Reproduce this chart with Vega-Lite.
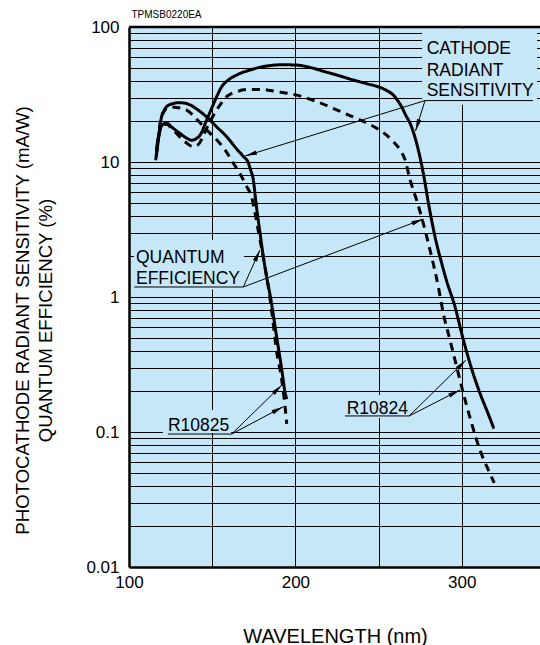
{
  "$schema": "https://vega.github.io/schema/vega-lite/v6.json",
  "width": 411,
  "height": 540,
  "autosize": {"type": "none"},
  "padding": {"left": 129, "top": 27, "right": 0, "bottom": 78},
  "background": "white",
  "view": {"fill": "#C6E7F8", "stroke": null},
  "config": {"font": "Liberation Sans", "text": {"font": "Liberation Sans", "color": "#000"}},
  "datasets": {
    "curves": [
      {"series": "R10825 sensitivity", "kind": "sensitivity", "wavelength": 116, "value": 10.3},
      {"series": "R10825 sensitivity", "kind": "sensitivity", "wavelength": 117, "value": 12.5},
      {"series": "R10825 sensitivity", "kind": "sensitivity", "wavelength": 117.6, "value": 14.5},
      {"series": "R10825 sensitivity", "kind": "sensitivity", "wavelength": 118.5, "value": 18},
      {"series": "R10825 sensitivity", "kind": "sensitivity", "wavelength": 119.6, "value": 21.7},
      {"series": "R10825 sensitivity", "kind": "sensitivity", "wavelength": 121, "value": 24},
      {"series": "R10825 sensitivity", "kind": "sensitivity", "wavelength": 122.6, "value": 25.7},
      {"series": "R10825 sensitivity", "kind": "sensitivity", "wavelength": 126, "value": 27},
      {"series": "R10825 sensitivity", "kind": "sensitivity", "wavelength": 130, "value": 27.5},
      {"series": "R10825 sensitivity", "kind": "sensitivity", "wavelength": 134, "value": 27.2},
      {"series": "R10825 sensitivity", "kind": "sensitivity", "wavelength": 138.6, "value": 25.7},
      {"series": "R10825 sensitivity", "kind": "sensitivity", "wavelength": 143, "value": 23.5},
      {"series": "R10825 sensitivity", "kind": "sensitivity", "wavelength": 147.7, "value": 21},
      {"series": "R10825 sensitivity", "kind": "sensitivity", "wavelength": 152.7, "value": 18.2},
      {"series": "R10825 sensitivity", "kind": "sensitivity", "wavelength": 158.7, "value": 15.4},
      {"series": "R10825 sensitivity", "kind": "sensitivity", "wavelength": 164, "value": 12.8},
      {"series": "R10825 sensitivity", "kind": "sensitivity", "wavelength": 168.7, "value": 11.0},
      {"series": "R10825 sensitivity", "kind": "sensitivity", "wavelength": 171.5, "value": 10.0},
      {"series": "R10825 sensitivity", "kind": "sensitivity", "wavelength": 173, "value": 8.8},
      {"series": "R10825 sensitivity", "kind": "sensitivity", "wavelength": 174.7, "value": 7.4},
      {"series": "R10825 sensitivity", "kind": "sensitivity", "wavelength": 176.3, "value": 5.0},
      {"series": "R10825 sensitivity", "kind": "sensitivity", "wavelength": 178.7, "value": 3.0},
      {"series": "R10825 sensitivity", "kind": "sensitivity", "wavelength": 180.7, "value": 2.0},
      {"series": "R10825 sensitivity", "kind": "sensitivity", "wavelength": 183, "value": 1.35},
      {"series": "R10825 sensitivity", "kind": "sensitivity", "wavelength": 185, "value": 1.0},
      {"series": "R10825 sensitivity", "kind": "sensitivity", "wavelength": 188.8, "value": 0.5},
      {"series": "R10825 sensitivity", "kind": "sensitivity", "wavelength": 191.8, "value": 0.29},
      {"series": "R10825 sensitivity", "kind": "sensitivity", "wavelength": 193.7, "value": 0.2},
      {"series": "R10825 sensitivity", "kind": "sensitivity", "wavelength": 194.8, "value": 0.175},

      {"series": "R10825 QE", "kind": "QE", "wavelength": 116.3, "value": 11},
      {"series": "R10825 QE", "kind": "QE", "wavelength": 117.5, "value": 14.5},
      {"series": "R10825 QE", "kind": "QE", "wavelength": 118.6, "value": 19},
      {"series": "R10825 QE", "kind": "QE", "wavelength": 120.5, "value": 23},
      {"series": "R10825 QE", "kind": "QE", "wavelength": 122.6, "value": 25},
      {"series": "R10825 QE", "kind": "QE", "wavelength": 126, "value": 25.6},
      {"series": "R10825 QE", "kind": "QE", "wavelength": 130, "value": 25.2},
      {"series": "R10825 QE", "kind": "QE", "wavelength": 134, "value": 24.5},
      {"series": "R10825 QE", "kind": "QE", "wavelength": 138, "value": 22.5},
      {"series": "R10825 QE", "kind": "QE", "wavelength": 142.7, "value": 19.5},
      {"series": "R10825 QE", "kind": "QE", "wavelength": 147.7, "value": 16.8},
      {"series": "R10825 QE", "kind": "QE", "wavelength": 152.7, "value": 14.6},
      {"series": "R10825 QE", "kind": "QE", "wavelength": 157.7, "value": 12.3},
      {"series": "R10825 QE", "kind": "QE", "wavelength": 162.7, "value": 9.8},
      {"series": "R10825 QE", "kind": "QE", "wavelength": 166.7, "value": 8.2},
      {"series": "R10825 QE", "kind": "QE", "wavelength": 170.7, "value": 6.6},
      {"series": "R10825 QE", "kind": "QE", "wavelength": 173.7, "value": 5.5},
      {"series": "R10825 QE", "kind": "QE", "wavelength": 175.7, "value": 4.2},
      {"series": "R10825 QE", "kind": "QE", "wavelength": 177.7, "value": 3.1},
      {"series": "R10825 QE", "kind": "QE", "wavelength": 179.7, "value": 2.3},
      {"series": "R10825 QE", "kind": "QE", "wavelength": 181.7, "value": 1.67},
      {"series": "R10825 QE", "kind": "QE", "wavelength": 183.7, "value": 1.19},
      {"series": "R10825 QE", "kind": "QE", "wavelength": 185.7, "value": 0.8},
      {"series": "R10825 QE", "kind": "QE", "wavelength": 188.8, "value": 0.39},
      {"series": "R10825 QE", "kind": "QE", "wavelength": 191.8, "value": 0.243},
      {"series": "R10825 QE", "kind": "QE", "wavelength": 193.8, "value": 0.154},
      {"series": "R10825 QE", "kind": "QE", "wavelength": 194.8, "value": 0.115},

      {"series": "R10824 sensitivity", "kind": "sensitivity", "wavelength": 116.6, "value": 12.6},
      {"series": "R10824 sensitivity", "kind": "sensitivity", "wavelength": 117.5, "value": 15},
      {"series": "R10824 sensitivity", "kind": "sensitivity", "wavelength": 118.6, "value": 17.3},
      {"series": "R10824 sensitivity", "kind": "sensitivity", "wavelength": 120.5, "value": 19.0},
      {"series": "R10824 sensitivity", "kind": "sensitivity", "wavelength": 122.6, "value": 19.4},
      {"series": "R10824 sensitivity", "kind": "sensitivity", "wavelength": 126, "value": 18},
      {"series": "R10824 sensitivity", "kind": "sensitivity", "wavelength": 130.6, "value": 16.3},
      {"series": "R10824 sensitivity", "kind": "sensitivity", "wavelength": 134, "value": 15.2},
      {"series": "R10824 sensitivity", "kind": "sensitivity", "wavelength": 137.7, "value": 14.5},
      {"series": "R10824 sensitivity", "kind": "sensitivity", "wavelength": 140, "value": 14.8},
      {"series": "R10824 sensitivity", "kind": "sensitivity", "wavelength": 142.7, "value": 15.8},
      {"series": "R10824 sensitivity", "kind": "sensitivity", "wavelength": 146.7, "value": 20.5},
      {"series": "R10824 sensitivity", "kind": "sensitivity", "wavelength": 149.7, "value": 25},
      {"series": "R10824 sensitivity", "kind": "sensitivity", "wavelength": 152.7, "value": 30.5},
      {"series": "R10824 sensitivity", "kind": "sensitivity", "wavelength": 155.7, "value": 36.1},
      {"series": "R10824 sensitivity", "kind": "sensitivity", "wavelength": 159.7, "value": 40.5},
      {"series": "R10824 sensitivity", "kind": "sensitivity", "wavelength": 164.7, "value": 44.1},
      {"series": "R10824 sensitivity", "kind": "sensitivity", "wavelength": 172.7, "value": 48},
      {"series": "R10824 sensitivity", "kind": "sensitivity", "wavelength": 182.7, "value": 51.4},
      {"series": "R10824 sensitivity", "kind": "sensitivity", "wavelength": 192, "value": 52.5},
      {"series": "R10824 sensitivity", "kind": "sensitivity", "wavelength": 200, "value": 52.3},
      {"series": "R10824 sensitivity", "kind": "sensitivity", "wavelength": 208, "value": 50.5},
      {"series": "R10824 sensitivity", "kind": "sensitivity", "wavelength": 216.8, "value": 47},
      {"series": "R10824 sensitivity", "kind": "sensitivity", "wavelength": 224.8, "value": 44.1},
      {"series": "R10824 sensitivity", "kind": "sensitivity", "wavelength": 234.8, "value": 40.5},
      {"series": "R10824 sensitivity", "kind": "sensitivity", "wavelength": 243, "value": 38},
      {"series": "R10824 sensitivity", "kind": "sensitivity", "wavelength": 250.8, "value": 35.7},
      {"series": "R10824 sensitivity", "kind": "sensitivity", "wavelength": 255, "value": 33.8},
      {"series": "R10824 sensitivity", "kind": "sensitivity", "wavelength": 258.9, "value": 31.3},
      {"series": "R10824 sensitivity", "kind": "sensitivity", "wavelength": 261.5, "value": 28.5},
      {"series": "R10824 sensitivity", "kind": "sensitivity", "wavelength": 263.8, "value": 25.7},
      {"series": "R10824 sensitivity", "kind": "sensitivity", "wavelength": 266.5, "value": 22},
      {"series": "R10824 sensitivity", "kind": "sensitivity", "wavelength": 268.9, "value": 19.4},
      {"series": "R10824 sensitivity", "kind": "sensitivity", "wavelength": 272.9, "value": 13.7},
      {"series": "R10824 sensitivity", "kind": "sensitivity", "wavelength": 276.9, "value": 8.2},
      {"series": "R10824 sensitivity", "kind": "sensitivity", "wavelength": 279.9, "value": 5.0},
      {"series": "R10824 sensitivity", "kind": "sensitivity", "wavelength": 283.9, "value": 2.8},
      {"series": "R10824 sensitivity", "kind": "sensitivity", "wavelength": 287.9, "value": 1.78},
      {"series": "R10824 sensitivity", "kind": "sensitivity", "wavelength": 291, "value": 1.3},
      {"series": "R10824 sensitivity", "kind": "sensitivity", "wavelength": 295.9, "value": 0.85},
      {"series": "R10824 sensitivity", "kind": "sensitivity", "wavelength": 299.9, "value": 0.54},
      {"series": "R10824 sensitivity", "kind": "sensitivity", "wavelength": 304.9, "value": 0.323},
      {"series": "R10824 sensitivity", "kind": "sensitivity", "wavelength": 310.9, "value": 0.194},
      {"series": "R10824 sensitivity", "kind": "sensitivity", "wavelength": 315, "value": 0.145},
      {"series": "R10824 sensitivity", "kind": "sensitivity", "wavelength": 319.3, "value": 0.106},

      {"series": "R10824 QE", "kind": "QE", "wavelength": 116.5, "value": 12},
      {"series": "R10824 QE", "kind": "QE", "wavelength": 117.5, "value": 14.5},
      {"series": "R10824 QE", "kind": "QE", "wavelength": 118.5, "value": 16.8},
      {"series": "R10824 QE", "kind": "QE", "wavelength": 120.5, "value": 18.6},
      {"series": "R10824 QE", "kind": "QE", "wavelength": 122.6, "value": 19},
      {"series": "R10824 QE", "kind": "QE", "wavelength": 126, "value": 17.5},
      {"series": "R10824 QE", "kind": "QE", "wavelength": 130, "value": 15.6},
      {"series": "R10824 QE", "kind": "QE", "wavelength": 134, "value": 14},
      {"series": "R10824 QE", "kind": "QE", "wavelength": 138.6, "value": 13.0},
      {"series": "R10824 QE", "kind": "QE", "wavelength": 142, "value": 13.6},
      {"series": "R10824 QE", "kind": "QE", "wavelength": 144.5, "value": 15.5},
      {"series": "R10824 QE", "kind": "QE", "wavelength": 146.7, "value": 17.8},
      {"series": "R10824 QE", "kind": "QE", "wavelength": 149.7, "value": 21},
      {"series": "R10824 QE", "kind": "QE", "wavelength": 152.7, "value": 24.3},
      {"series": "R10824 QE", "kind": "QE", "wavelength": 155.7, "value": 27.5},
      {"series": "R10824 QE", "kind": "QE", "wavelength": 158.7, "value": 30.5},
      {"series": "R10824 QE", "kind": "QE", "wavelength": 164.7, "value": 33.2},
      {"series": "R10824 QE", "kind": "QE", "wavelength": 172.7, "value": 34.5},
      {"series": "R10824 QE", "kind": "QE", "wavelength": 180, "value": 34.5},
      {"series": "R10824 QE", "kind": "QE", "wavelength": 188.8, "value": 33.2},
      {"series": "R10824 QE", "kind": "QE", "wavelength": 200.8, "value": 31.3},
      {"series": "R10824 QE", "kind": "QE", "wavelength": 212.8, "value": 28},
      {"series": "R10824 QE", "kind": "QE", "wavelength": 224.8, "value": 24.3},
      {"series": "R10824 QE", "kind": "QE", "wavelength": 238.8, "value": 20.5},
      {"series": "R10824 QE", "kind": "QE", "wavelength": 248.8, "value": 17.8},
      {"series": "R10824 QE", "kind": "QE", "wavelength": 254.8, "value": 15.8},
      {"series": "R10824 QE", "kind": "QE", "wavelength": 258.5, "value": 14.3},
      {"series": "R10824 QE", "kind": "QE", "wavelength": 262.9, "value": 12.3},
      {"series": "R10824 QE", "kind": "QE", "wavelength": 265.9, "value": 10.4},
      {"series": "R10824 QE", "kind": "QE", "wavelength": 268.9, "value": 7.4},
      {"series": "R10824 QE", "kind": "QE", "wavelength": 272.9, "value": 5.2},
      {"series": "R10824 QE", "kind": "QE", "wavelength": 276.9, "value": 3.5},
      {"series": "R10824 QE", "kind": "QE", "wavelength": 280.9, "value": 2.23},
      {"series": "R10824 QE", "kind": "QE", "wavelength": 285.9, "value": 1.19},
      {"series": "R10824 QE", "kind": "QE", "wavelength": 288.9, "value": 0.757},
      {"series": "R10824 QE", "kind": "QE", "wavelength": 292.9, "value": 0.48},
      {"series": "R10824 QE", "kind": "QE", "wavelength": 296.9, "value": 0.305},
      {"series": "R10824 QE", "kind": "QE", "wavelength": 300.9, "value": 0.194},
      {"series": "R10824 QE", "kind": "QE", "wavelength": 305.9, "value": 0.116},
      {"series": "R10824 QE", "kind": "QE", "wavelength": 310.9, "value": 0.0736},
      {"series": "R10824 QE", "kind": "QE", "wavelength": 316.9, "value": 0.0494},
      {"series": "R10824 QE", "kind": "QE", "wavelength": 319.5, "value": 0.042}
    ],
    "masks": [
      {"wavelength": 276.1, "wavelength2": 345.2, "value": 26.6, "value2": 97},
      {"wavelength": 103, "wavelength2": 169.1, "value": 1.13, "value2": 2.64},
      {"wavelength": 120.4, "wavelength2": 161.3, "value": 0.0985, "value2": 0.1455},
      {"wavelength": 229.8, "wavelength2": 268.9, "value": 0.127, "value2": 0.188}
    ],
    "leaders": [
      {"wavelength": 277.9, "value": 28.5, "wavelength2": 342.8, "value2": 28.5},
      {"wavelength": 277.9, "value": 28.5, "wavelength2": 169.7, "value2": 11.07},
      {"wavelength": 277.9, "value": 28.5, "wavelength2": 272.2, "value2": 16.97},
      {"wavelength": 103.2, "value": 1.186, "wavelength2": 168.7, "value2": 1.186},
      {"wavelength": 168.7, "value": 1.186, "wavelength2": 178.7, "value2": 2.23},
      {"wavelength": 168.7, "value": 1.186, "wavelength2": 276.9, "value2": 3.78},
      {"wavelength": 123.4, "value": 0.0966, "wavelength2": 161.7, "value2": 0.0966},
      {"wavelength": 161.7, "value": 0.0966, "wavelength2": 191.9, "value2": 0.223},
      {"wavelength": 161.7, "value": 0.0966, "wavelength2": 192.7, "value2": 0.154},
      {"wavelength": 229.8, "value": 0.1315, "wavelength2": 268.4, "value2": 0.1315},
      {"wavelength": 268.4, "value": 0.1315, "wavelength2": 302.5, "value2": 0.341},
      {"wavelength": 268.4, "value": 0.1315, "wavelength2": 298.9, "value2": 0.2047}
    ],
    "tips": [
      {"id": 1, "wavelength": 169.7, "value": 11.07},
      {"id": 2, "wavelength": 272.2, "value": 16.97},
      {"id": 3, "wavelength": 178.7, "value": 2.23},
      {"id": 4, "wavelength": 276.9, "value": 3.78},
      {"id": 5, "wavelength": 191.9, "value": 0.223},
      {"id": 6, "wavelength": 192.7, "value": 0.154},
      {"id": 7, "wavelength": 302.5, "value": 0.341},
      {"id": 8, "wavelength": 298.9, "value": 0.2047}
    ],
    "labels": [
      {"text": "CATHODE", "wavelength": 278.9, "value": 62.8},
      {"text": "RADIANT", "wavelength": 278.9, "value": 43.2},
      {"text": "SENSITIVITY", "wavelength": 278.9, "value": 30.7},
      {"text": "QUANTUM", "wavelength": 104.2, "value": 1.777},
      {"text": "EFFICIENCY", "wavelength": 104.2, "value": 1.248},
      {"text": "R10825", "wavelength": 123.4, "value": 0.1023},
      {"text": "R10824", "wavelength": 230.8, "value": 0.136}
    ]
  },
  "encoding": {
    "x": {
      "field": "wavelength",
      "type": "quantitative",
      "scale": {"domain": [100, 347], "nice": false, "zero": false},
      "axis": {
        "title": "WAVELENGTH (nm)",
        "values": [100, 150, 200, 250, 300],
        "format": "d",
        "labelExpr": "datum.value % 100 === 0 ? datum.label : ''",
        "grid": true, "gridColor": "#000", "gridWidth": 1, "gridOpacity": 1,
        "ticks": false, "tickSize": 0,
        "domainColor": "#000", "domainWidth": 2.5,
        "labelFontSize": 17, "labelColor": "#000", "labelPadding": 7,
        "labelFlush": false, "labelOverlap": false, "labelBaseline": "top",
        "titleFont": "Liberation Sans",
        "titleFontSize": 20, "titleFontWeight": "normal", "titleColor": "#000",
        "titleBaseline": "alphabetic", "titleX": 206, "titleY": 75
      }
    },
    "y": {
      "field": "value",
      "type": "quantitative",
      "scale": {"type": "log", "domain": [0.01, 100], "nice": false},
      "axis": {
        "title": ["PHOTOCATHODE RADIANT SENSITIVITY (mA/W)", "QUANTUM EFFICIENCY (%)"],
        "values": [0.01, 0.02, 0.03, 0.04, 0.05, 0.06, 0.07, 0.08, 0.09, 0.1, 0.2, 0.3, 0.4, 0.5, 0.6, 0.7, 0.8, 0.9, 1, 2, 3, 4, 5, 6, 7, 8, 9, 10, 20, 30, 40, 50, 60, 70, 80, 90, 100],
        "format": "~g",
        "labelExpr": "indexof(['0.01','0.1','1','10','100'], datum.label) >= 0 ? datum.label : ''",
        "grid": true, "gridColor": "#000", "gridWidth": 1, "gridOpacity": 1,
        "ticks": false, "tickSize": 0,
        "domainColor": "#000", "domainWidth": 2.5,
        "labelFontSize": 17, "labelColor": "#000", "labelPadding": 10,
        "labelFlush": false, "labelOverlap": false, "labelBaseline": "middle", "labelAlign": "right",
        "titleFont": "Liberation Sans",
        "titleFontSize": 18.6, "titleFontWeight": "normal", "titleColor": "#000",
        "titleAngle": -90, "titleAlign": "center", "titleBaseline": "top",
        "titleLineHeight": 23, "titleX": -115.5, "titleY": 293
      }
    }
  },
  "layer": [
    {
      "data": {"name": "masks"},
      "mark": {"type": "rect", "color": "#C6E7F8"},
      "encoding": {"x2": {"field": "wavelength2"}, "y2": {"field": "value2"}}
    },
    {
      "data": {"name": "curves"},
      "mark": {"type": "line", "strokeWidth": 3, "color": "#000", "clip": true, "interpolate": "monotone", "strokeCap": "butt"},
      "encoding": {
        "detail": {"field": "series"},
        "strokeDash": {"field": "kind", "type": "nominal", "scale": {"domain": ["sensitivity", "QE"], "range": [[1, 0], [8, 6]]}, "legend": null}
      }
    },
    {
      "data": {"name": "leaders"},
      "mark": {"type": "rule", "color": "#000", "strokeWidth": 1},
      "encoding": {"x2": {"field": "wavelength2"}, "y2": {"field": "value2"}}
    },
    {"data": {"name": "tips"}, "transform": [{"filter": "datum.id === 1"}], "mark": {"type": "point", "shape": "M0,0L-0.45,2.4L0.45,2.4Z", "size": 100, "filled": true, "color": "#000", "opacity": 1, "angle": 253}},
    {"data": {"name": "tips"}, "transform": [{"filter": "datum.id === 2"}], "mark": {"type": "point", "shape": "M0,0L-0.45,2.4L0.45,2.4Z", "size": 100, "filled": true, "color": "#000", "opacity": 1, "angle": 197.6}},
    {"data": {"name": "tips"}, "transform": [{"filter": "datum.id === 3"}], "mark": {"type": "point", "shape": "M0,0L-0.45,2.4L0.45,2.4Z", "size": 100, "filled": true, "color": "#000", "opacity": 1, "angle": 24.5}},
    {"data": {"name": "tips"}, "transform": [{"filter": "datum.id === 4"}], "mark": {"type": "point", "shape": "M0,0L-0.45,2.4L0.45,2.4Z", "size": 100, "filled": true, "color": "#000", "opacity": 1, "angle": 69.3}},
    {"data": {"name": "tips"}, "transform": [{"filter": "datum.id === 5"}], "mark": {"type": "point", "shape": "M0,0L-0.45,2.4L0.45,2.4Z", "size": 100, "filled": true, "color": "#000", "opacity": 1, "angle": 45.6}},
    {"data": {"name": "tips"}, "transform": [{"filter": "datum.id === 6"}], "mark": {"type": "point", "shape": "M0,0L-0.45,2.4L0.45,2.4Z", "size": 100, "filled": true, "color": "#000", "opacity": 1, "angle": 62.4}},
    {"data": {"name": "tips"}, "transform": [{"filter": "datum.id === 7"}], "mark": {"type": "point", "shape": "M0,0L-0.45,2.4L0.45,2.4Z", "size": 100, "filled": true, "color": "#000", "opacity": 1, "angle": 45.3}},
    {"data": {"name": "tips"}, "transform": [{"filter": "datum.id === 8"}], "mark": {"type": "point", "shape": "M0,0L-0.45,2.4L0.45,2.4Z", "size": 100, "filled": true, "color": "#000", "opacity": 1, "angle": 62.9}},
    {
      "data": {"name": "labels"},
      "mark": {"type": "text", "align": "left", "baseline": "alphabetic", "fontSize": 17.5, "color": "#000"},
      "encoding": {"text": {"field": "text"}}
    },
    {
      "data": {"values": [{"wavelength": 100, "wavelength2": 347, "value": 100}]},
      "mark": {"type": "rule", "color": "#000", "strokeWidth": 2.5},
      "encoding": {"x2": {"field": "wavelength2"}}
    },
    {
      "data": {"values": [{"text": "TPMSB0220EA", "wavelength": 101.5, "value": 117}]},
      "mark": {"type": "text", "align": "left", "baseline": "alphabetic", "fontSize": 10, "color": "#000"},
      "encoding": {"text": {"field": "text"}}
    }
  ]
}
